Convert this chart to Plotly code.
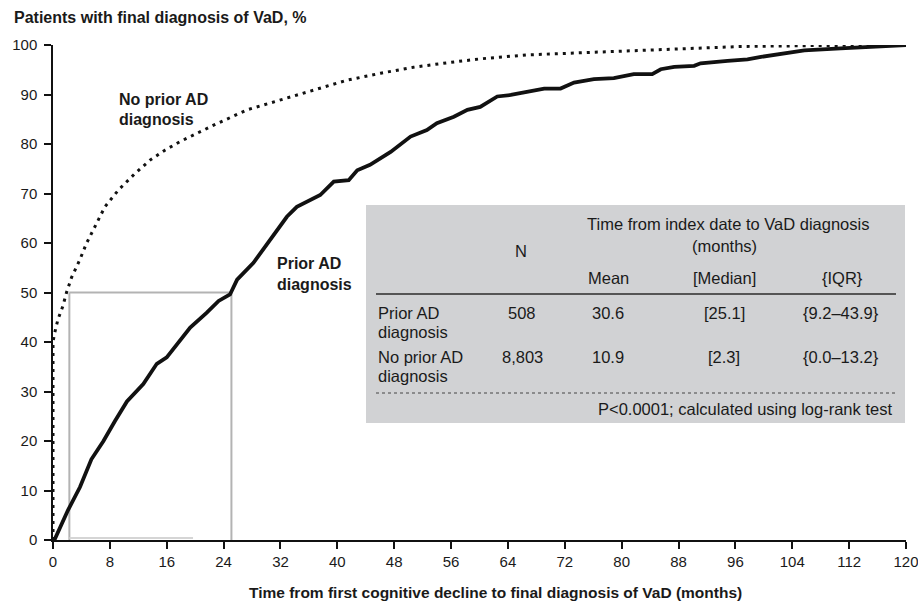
import plotly.graph_objects as go

# ---- data ----
prior_months = [0, 0.2, 2.1, 3.8, 5.4, 7.1, 8.7, 10.4, 12.7, 14.6, 16.0, 17.9, 19.3, 21.6, 23.3,
                24.9, 25.9, 28.2, 30.6, 32.0, 32.9, 34.3, 37.6, 39.5, 41.6, 42.8, 44.6, 47.5,
                50.3, 52.6, 54.0, 56.4, 58.3, 60.1, 62.5, 64.4, 66.7, 69.1, 71.4, 73.3, 76.1,
                78.9, 81.7, 84.3, 85.5, 87.4, 90.2, 91.1, 94.9, 97.7, 99.6, 102.9, 105.7,
                110.8, 115.5, 120]
prior_pct = [0, 0, 6, 10.7, 16.3, 20, 24, 28, 31.5, 35.6, 36.9, 40.2, 42.9, 45.9, 48.3,
             49.6, 52.6, 56, 60.6, 63.3, 65.3, 67.3, 69.7, 72.4, 72.7, 74.7, 75.8, 78.4,
             81.5, 82.8, 84.2, 85.5, 86.9, 87.5, 89.6, 89.9, 90.6, 91.2, 91.2, 92.4, 93.1,
             93.3, 94.1, 94.1, 95.1, 95.6, 95.8, 96.3, 96.8, 97.1, 97.6, 98.2, 98.9,
             99.3, 99.7, 100]

noprior_months = [0, 0, 0.2, 0.7, 1.4, 1.9, 2.6, 3.8, 4.7, 5.9, 7.3, 9.2, 11.5, 13.7, 15.8,
                  17.9, 22.6, 27.3, 32.0, 36.7, 41.4, 46.1, 50.7, 55.4, 60.1, 66.7, 76.1,
                  85.5, 96.8, 108, 120]
noprior_pct = [0, 40, 41.6, 44.6, 47.3, 50, 53, 56.7, 59.9, 63.2, 67.3, 70.7, 74, 76.8, 78.8,
               80.5, 83.8, 86.9, 88.9, 90.9, 92.9, 94.3, 95.5, 96.4, 97.2, 98.0, 98.5,
               99.1, 99.7, 99.9, 100]

x_ticks = list(range(0, 121, 8))
y_ticks = list(range(0, 101, 10))

group_labels = [["Prior AD", "diagnosis"], ["No prior AD", "diagnosis"]]
n_patients = ["508", "8,803"]
mean_months = ["30.6", "10.9"]
median_months = [25.1, 2.3]
iqr_months = ["{9.2–43.9}", "{0.0–13.2}"]

# ---- layout geometry (pixels) ----
W, H = 918, 602
ML, MR, MT, MB = 53, 12, 45, 62
PW, PH = W - ML - MR, H - MT - MB


def px(x):
    return (x - ML) / PW


def py(y):
    return (H - MB - y) / PH


FONT = "Liberation Sans, Arial, sans-serif"
TXT = "#1a1a1a"
TS = 16.5  # table font size

fig = go.Figure()

fig.add_trace(go.Scatter(x=noprior_months, y=noprior_pct, mode="lines",
                         line=dict(color="#111111", width=3, dash="3px,5px"),
                         showlegend=False, hoverinfo="skip"))
fig.add_trace(go.Scatter(x=prior_months, y=prior_pct, mode="lines",
                         line=dict(color="#111111", width=3.8),
                         showlegend=False, hoverinfo="skip"))

shapes = []
# median guide lines
for m in median_months:
    shapes.append(dict(type="line", xref="x", yref="y", x0=m, x1=m, y0=0, y1=50,
                       line=dict(color="#b3b3b3", width=2), layer="below"))
shapes.append(dict(type="line", xref="x", yref="y", x0=min(median_months), x1=max(median_months),
                   y0=50, y1=50, line=dict(color="#b3b3b3", width=2), layer="below"))
shapes.append(dict(type="line", xref="x", yref="y", x0=min(median_months), x1=19.7,
                   y0=0.4, y1=0.4, line=dict(color="#d5d5d5", width=2), layer="below"))

# table box
shapes.append(dict(type="rect", xref="paper", yref="paper", x0=px(366), x1=px(905),
                   y0=py(423), y1=py(205), fillcolor="#d1d2d4", line=dict(width=0)))
shapes.append(dict(type="line", xref="paper", yref="paper", x0=px(376), x1=px(896),
                   y0=py(294), y1=py(294), line=dict(color="#555555", width=2)))
shapes.append(dict(type="line", xref="paper", yref="paper", x0=px(376), x1=px(896),
                   y0=py(393), y1=py(393), line=dict(color="#444444", width=1, dash="dot")))

annotations = []


def ann(text, x, y, size=TS, xanchor="center", bold=False):
    annotations.append(dict(text=text, xref="paper", yref="paper", x=px(x), y=py(y),
                            xanchor=xanchor, yanchor="middle", showarrow=False,
                            font=dict(family=FONT, size=size, color=TXT,
                                      weight="bold" if bold else "normal")))


ann("Patients with final diagnosis of VaD, %", 12, 17, size=16, xanchor="left", bold=True)
ann("Time from first cognitive decline to final diagnosis of VaD (months)", 495, 592,
    size=15.5, bold=True)
ann("No prior AD", 117, 99, size=16, xanchor="left", bold=True)
ann("diagnosis", 117, 120, size=16, xanchor="left", bold=True)
ann("Prior AD", 275, 263, size=16, xanchor="left", bold=True)
ann("diagnosis", 275, 284, size=16, xanchor="left", bold=True)

# table text
ann("Time from index date to VaD diagnosis", 728, 224)
ann("(months)", 724, 246)
ann("N", 521, 251)
ann("Mean", 608, 278)
ann("[Median]", 724, 278)
ann("{IQR}", 842, 278)
row_y = [313, 357]
for i in range(2):
    ann(group_labels[i][0], 376, row_y[i], xanchor="left")
    ann(group_labels[i][1], 376, row_y[i] + 19, xanchor="left")
    ann(n_patients[i], 522, row_y[i])
    ann(mean_months[i], 608, row_y[i])
    ann("[" + str(median_months[i]) + "]", 724, row_y[i])
    ann(iqr_months[i], 841, row_y[i])
ann("P<0.0001; calculated using log-rank test", 894, 409, xanchor="right")

axis_common = dict(showline=True, linecolor="#111111", linewidth=1.5, ticks="outside",
                   ticklen=7, tickwidth=1.5, tickcolor="#111111", showgrid=False,
                   zeroline=False, tickfont=dict(family=FONT, size=15, color=TXT),
                   fixedrange=True, ticklabeloverflow="allow", automargin=False)

fig.update_layout(
    width=W, height=H,
    margin=dict(l=ML, r=MR, t=MT, b=MB, autoexpand=False),
    paper_bgcolor="white", plot_bgcolor="white",
    xaxis=dict(range=[0, 120], tickvals=x_ticks, **axis_common),
    yaxis=dict(range=[0, 100], tickvals=y_ticks, ticklabelstandoff=4, **axis_common),
    shapes=shapes, annotations=annotations,
    showlegend=False,
)

fig.write_html("out.html")
